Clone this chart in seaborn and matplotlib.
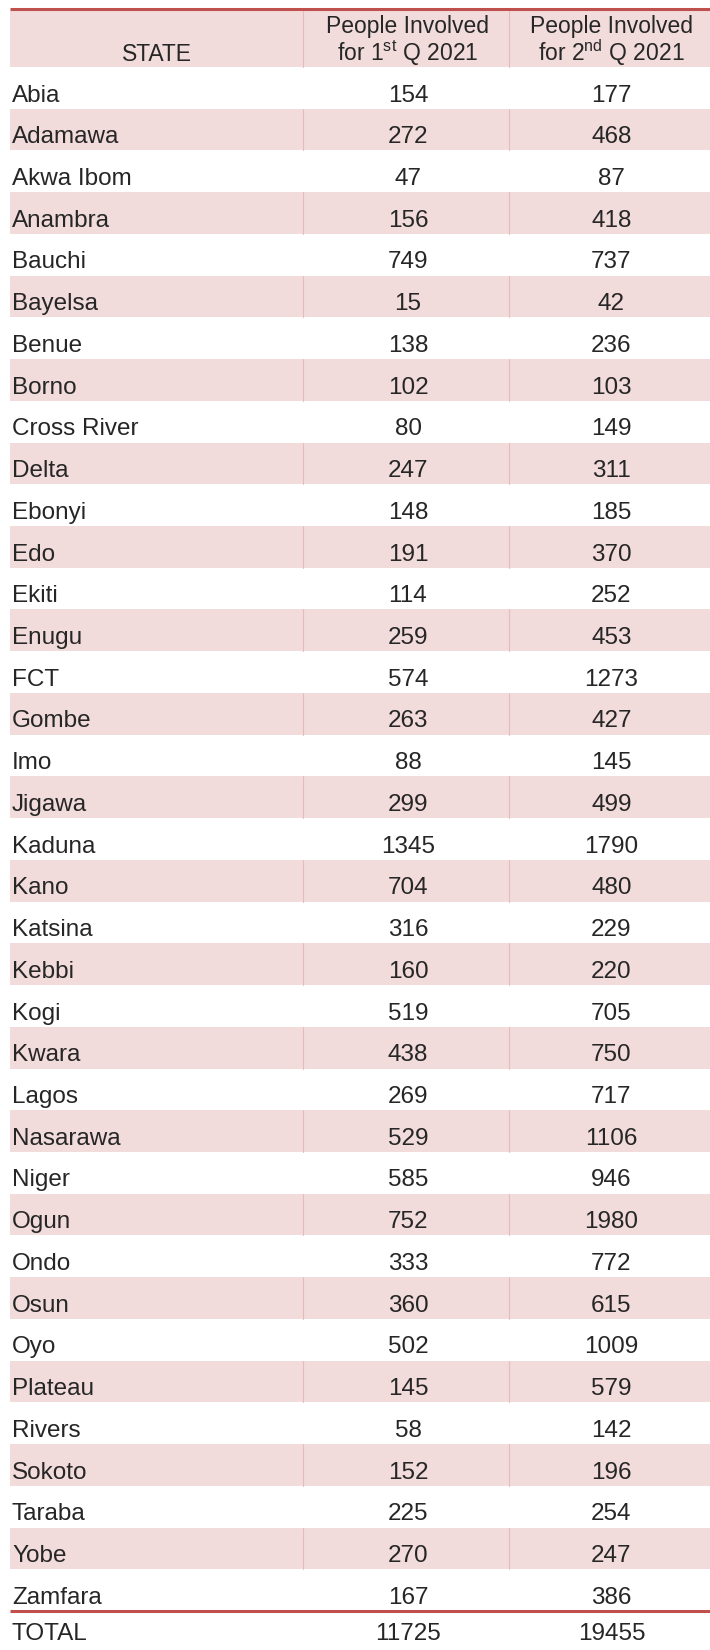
import matplotlib
matplotlib.use("Agg")
import matplotlib.pyplot as plt
from matplotlib.colors import ListedColormap
import seaborn as sns
import numpy as np

states = ["Abia", "Adamawa", "Akwa Ibom", "Anambra", "Bauchi", "Bayelsa", "Benue",
          "Borno", "Cross River", "Delta", "Ebonyi", "Edo", "Ekiti", "Enugu", "FCT",
          "Gombe", "Imo", "Jigawa", "Kaduna", "Kano", "Katsina", "Kebbi", "Kogi",
          "Kwara", "Lagos", "Nasarawa", "Niger", "Ogun", "Ondo", "Osun", "Oyo",
          "Plateau", "Rivers", "Sokoto", "Taraba", "Yobe", "Zamfara"]
q1 = [154, 272, 47, 156, 749, 15, 138, 102, 80, 247, 148, 191, 114, 259, 574, 263,
      88, 299, 1345, 704, 316, 160, 519, 438, 269, 529, 585, 752, 333, 360, 502,
      145, 58, 152, 225, 270, 167]
q2 = [177, 468, 87, 418, 737, 42, 236, 103, 149, 311, 185, 370, 252, 453, 1273, 427,
      145, 499, 1790, 480, 229, 220, 705, 750, 717, 1106, 946, 1980, 772, 615, 1009,
      579, 142, 196, 254, 247, 386]
header_state = "STATE"
header_top = ["People Involved", "People Involved"]
header_bottom = ["for 1$^{\\mathrm{st}}$ Q 2021", "for 2$^{\\mathrm{nd}}$ Q 2021"]
total_label = "TOTAL"
totals = [11725, 19455]

sns.set_theme(style="white")
plt.rcParams["font.family"] = ["Liberation Sans", "DejaVu Sans"]
plt.rcParams["mathtext.fontset"] = "custom"
plt.rcParams["mathtext.rm"] = "Liberation Sans"

PINK = "#f2dbdb"
RED = "#c0504d"
DIV = "#e6bcbb"

W, H = 710, 1650
left, right = 10, 710
col_edges = [10, 303, 509, 710]
head_top, body_top, body_bot = 11, 67, 1611
n = len(states)
rh = (body_bot - body_top) / n
fs = 17.5

fig = plt.figure(figsize=(W / 100, H / 100), dpi=100)

# banded rows via heatmap
bands = np.array([[i % 2] for i in range(n)])
hm = fig.add_axes([left / W, (H - body_bot) / H, (right - left) / W, (body_bot - body_top) / H])
sns.heatmap(bands, ax=hm, cmap=ListedColormap(["white", PINK]), vmin=0, vmax=1,
            cbar=False, xticklabels=False, yticklabels=False)
hm.set_axis_off()

ax = fig.add_axes([0, 0, 1, 1])
ax.set_xlim(0, W)
ax.set_ylim(H, 0)
ax.set_axis_off()
ax.patch.set_alpha(0)

# header band
ax.fill_between([left, right], head_top, body_top, color=PINK, lw=0)
for x in col_edges[1:3]:
    ax.plot([x, x], [head_top, body_top], color=DIV, lw=0.8)
ax.plot([left, right], [9, 9], color=RED, lw=2.2, solid_capstyle="butt")

ax.text((col_edges[0] + col_edges[1]) / 2, 61, header_state, ha="center", va="baseline", fontsize=16.5)
for j in (1, 2):
    cx = (col_edges[j] + col_edges[j + 1]) / 2 + 2
    ax.text(cx, 33, header_top[j - 1], ha="center", va="baseline", fontsize=16.5)
    ax.text(cx, 61, header_bottom[j - 1], ha="center", va="baseline", fontsize=16.5)

# body rows
for i, (s, a, b) in enumerate(zip(states, q1, q2)):
    top = body_top + i * rh
    if i % 2 == 1:
        for x in col_edges[1:3]:
            ax.plot([x, x], [top, top + rh], color=DIV, lw=0.8)
    base = top + 34.5
    ax.text(12, base, s, ha="left", va="baseline", fontsize=fs)
    ax.text((col_edges[1] + col_edges[2]) / 2 + 2, base, str(a), ha="center", va="baseline", fontsize=fs)
    ax.text((col_edges[2] + col_edges[3]) / 2 + 2, base, str(b), ha="center", va="baseline", fontsize=fs)

ax.plot([left, right], [body_bot, body_bot], color=RED, lw=2.2, solid_capstyle="butt")

ax.text(12, 1640, total_label, ha="left", va="baseline", fontsize=fs)
ax.text((col_edges[1] + col_edges[2]) / 2 + 2, 1640, str(totals[0]), ha="center", va="baseline", fontsize=fs)
ax.text((col_edges[2] + col_edges[3]) / 2 + 2, 1640, str(totals[1]), ha="center", va="baseline", fontsize=fs)

fig.savefig("out.png", dpi=100, facecolor="white")
